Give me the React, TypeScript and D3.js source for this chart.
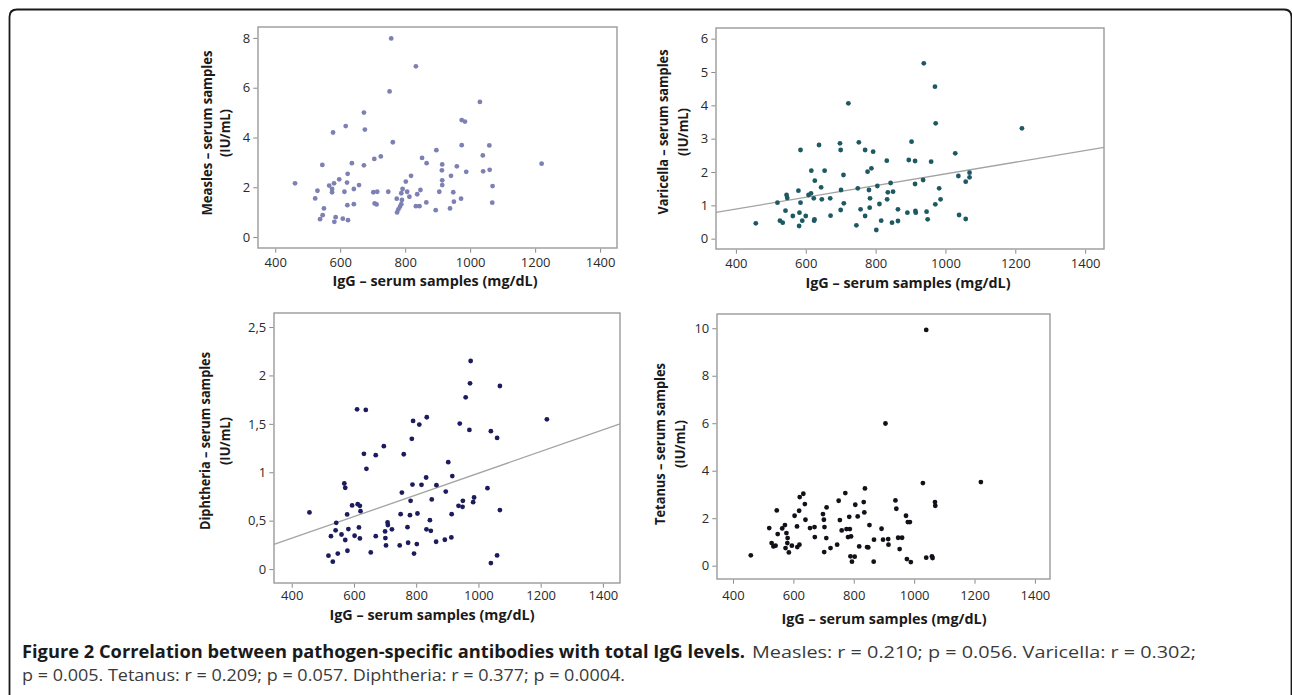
import React, { useRef, useEffect } from 'react'
import * as d3 from 'd3'

// IgG (mg/dL) vs pathogen-specific antibody (IU/mL)
const iggTicks = [400, 600, 800, 1000, 1200, 1400]
const measlesTicks = [0, 2, 4, 6, 8]
const varicellaTicks = [0, 1, 2, 3, 4, 5, 6]
const diphtheriaTicks = [0, 0.5, 1, 1.5, 2, 2.5]
const tetanusTicks = [0, 2, 4, 6, 8, 10]

const measles: [number, number][] = [
  [461, 2.16], [523, 1.55], [530, 1.86], [545, 2.9], [538, 0.72], [550, 1.15], [546, 0.88],
  [566, 2.07], [575, 1.93], [575, 1.8], [578, 4.2], [581, 2.16], [582, 0.61], [586, 0.8],
  [597, 2.32], [608, 0.74], [613, 1.82], [617, 4.46], [621, 2.19], [623, 2.54], [622, 1.28],
  [624, 0.68], [636, 2.97], [642, 1.93], [642, 1.32], [658, 2.09], [673, 5.0], [673, 2.88],
  [676, 4.32], [702, 1.8], [705, 3.14], [706, 1.35], [714, 1.82], [712, 1.31], [725, 3.24],
  [748, 1.82], [752, 5.85], [757, 7.98], [762, 3.81], [774, 1.54], [775, 0.99], [779, 1.11],
  [784, 1.22], [788, 1.76], [790, 1.49], [788, 1.32], [792, 1.93], [802, 2.23], [806, 1.82],
  [813, 1.62], [818, 2.46], [833, 6.86], [837, 1.72], [833, 1.24], [844, 1.24], [847, 1.89],
  [852, 3.18], [866, 2.97], [865, 1.39], [894, 1.08], [896, 3.49], [905, 1.82], [914, 2.92],
  [913, 2.68], [914, 2.28], [914, 2.09], [938, 1.15], [941, 2.46], [948, 1.8], [950, 1.42],
  [959, 2.84], [972, 1.54], [974, 3.69], [974, 4.7], [984, 4.64], [988, 2.62], [1030, 5.43],
  [1039, 3.28], [1040, 2.64], [1059, 3.68], [1060, 2.7], [1069, 2.05], [1068, 1.38], [1220, 2.95],
]

const varicella: [number, number][] = [
  [457, 0.46], [519, 1.08], [526, 0.54], [534, 0.48], [542, 0.84], [545, 1.31], [547, 1.22],
  [563, 0.68], [579, 1.44], [581, 0.38], [582, 0.78], [585, 1.08], [585, 2.66], [590, 0.54],
  [600, 0.68], [608, 1.31], [615, 1.36], [616, 2.04], [623, 1.21], [624, 0.54], [625, 0.58],
  [626, 1.74], [638, 2.81], [644, 1.54], [646, 1.18], [654, 2.04], [670, 1.21], [671, 0.69],
  [698, 2.86], [700, 2.66], [701, 1.46], [700, 0.86], [708, 1.91], [709, 1.06], [722, 4.06],
  [745, 0.4], [749, 1.51], [752, 2.89], [757, 0.88], [770, 0.68], [770, 2.66], [777, 2.01],
  [781, 1.46], [784, 1.21], [783, 0.93], [788, 2.11], [793, 2.61], [802, 0.26], [805, 1.58],
  [811, 1.04], [816, 0.54], [832, 2.34], [833, 1.18], [835, 1.39], [843, 1.67], [847, 0.48],
  [850, 1.41], [864, 0.88], [864, 0.53], [891, 0.78], [895, 2.36], [903, 2.91], [913, 2.33],
  [913, 1.64], [914, 0.83], [915, 0.78], [936, 1.76], [938, 5.26], [946, 0.81], [949, 0.58],
  [959, 2.31], [970, 4.56], [971, 1.03], [972, 3.46], [982, 1.51], [986, 1.18], [1028, 2.56],
  [1037, 1.88], [1039, 0.71], [1058, 1.71], [1058, 0.59], [1069, 1.98], [1069, 1.84], [1219, 3.31],
]

const diphtheria: [number, number][] = [
  [457, 0.585], [518, 0.138], [526, 0.34], [532, 0.076], [541, 0.4], [543, 0.478], [548, 0.16],
  [560, 0.357], [569, 0.884], [572, 0.839], [572, 0.3], [578, 0.564], [579, 0.189], [582, 0.413],
  [594, 0.657], [602, 0.344], [610, 1.65], [612, 0.67], [616, 0.43], [619, 0.316], [619, 0.653],
  [621, 0.598], [632, 1.19], [638, 1.644], [640, 1.035], [654, 0.172], [670, 0.34], [670, 1.176],
  [696, 1.269], [700, 0.389], [701, 0.32], [703, 0.244], [708, 0.481], [709, 0.454], [722, 0.41],
  [747, 0.244], [750, 0.567], [754, 0.79], [760, 1.186], [772, 0.433], [774, 0.272], [780, 0.557],
  [782, 0.705], [786, 1.345], [788, 0.873], [790, 1.53], [793, 0.16], [802, 0.258], [804, 0.574],
  [810, 1.492], [817, 0.87], [832, 0.946], [833, 0.41], [834, 1.568], [844, 0.505], [847, 0.395],
  [850, 0.719], [864, 0.282], [865, 0.867], [892, 0.303], [895, 0.8], [903, 1.104], [913, 0.327],
  [916, 0.96], [914, 0.567], [936, 0.653], [940, 1.503], [949, 0.643], [950, 0.705], [959, 1.774],
  [971, 1.437], [973, 1.919], [975, 2.149], [983, 0.691], [986, 0.739], [1029, 0.836], [1040, 1.424],
  [1040, 0.062], [1060, 1.355], [1060, 0.141], [1069, 1.891], [1069, 0.609], [1220, 1.547],
]

const tetanus: [number, number][] = [
  [459, 0.435], [520, 1.585], [528, 0.954], [534, 0.813], [541, 0.842], [545, 2.33], [548, 1.33],
  [563, 1.571], [572, 1.71], [574, 0.743], [577, 1.374], [580, 0.954], [581, 1.164], [585, 0.561],
  [595, 0.842], [604, 2.104], [612, 1.655], [613, 0.785], [619, 2.314], [621, 2.889], [620, 0.884],
  [633, 3.03], [638, 2.595], [640, 1.935], [655, 1.585], [670, 1.627], [671, 1.206], [698, 2.174],
  [701, 1.935], [702, 0.575], [703, 1.627], [709, 1.164], [710, 2.454], [723, 0.743], [745, 0.884],
  [750, 2.735], [754, 1.921], [760, 1.487], [772, 3.057], [776, 1.543], [781, 1.206], [785, 2.06],
  [787, 1.543], [791, 1.234], [789, 0.393], [794, 0.168], [803, 0.379], [805, 2.567], [813, 2.076],
  [818, 0.813], [833, 2.679], [835, 2.244], [837, 3.254], [844, 0.785], [848, 0.771], [852, 1.711],
  [866, 0.168], [867, 1.094], [892, 1.557], [897, 1.094], [905, 5.989], [914, 1.122], [915, 0.884],
  [938, 2.749], [941, 2.398], [947, 1.178], [952, 0.701], [960, 1.178], [973, 2.104], [976, 0.281],
  [979, 1.837], [986, 1.837], [989, 0.154], [1029, 3.478], [1040, 9.93], [1040, 0.337], [1059, 0.393],
  [1061, 0.323], [1069, 2.679], [1070, 2.524], [1221, 3.52],
]

// fitted lines: [intercept, slope]
const varicellaFit = [0.188, 0.001755]
const diphtheriaFit = [-0.13, 0.00112]

const captionBold = 'Figure 2 Correlation between pathogen-specific antibodies with total IgG levels.'
const captionRest1 = 'Measles: r = 0.210; p = 0.056. Varicella: r = 0.302;'
const captionRest2 = 'p = 0.005. Tetanus: r = 0.209; p = 0.057. Diphtheria: r = 0.377; p = 0.0004.'

const panels = [
  {
    name: 'Measles', data: measles, yTicks: measlesTicks, fit: null as number[] | null, color: '#7d80b3',
    left: 258, top: 27, right: 617, bottom: 248, xDom: [347, 1452], yDom: [-0.44, 8.44],
    yLab: [207, 225, 133], yLabLen: 165, xPad: 5, titleX: 435, titleY: 286,
  },
  {
    name: 'Varicella', data: varicella, yTicks: varicellaTicks, fit: varicellaFit, color: '#1d5963',
    left: 716, top: 28, right: 1104, bottom: 249, xDom: [343, 1454], yDom: [-0.31, 6.32],
    yLab: [663, 683, 132], yLabLen: 165, xPad: 5, titleX: 908, titleY: 288,
  },
  {
    name: 'Diphtheria', data: diphtheria, yTicks: diphtheriaTicks, fit: diphtheriaFit, color: '#1c1c5c',
    left: 274, top: 313, right: 620, bottom: 583, xDom: [343, 1455], yDom: [-0.144, 2.645],
    yLab: [205, 225, 441], yLabLen: 178, xPad: 3, titleX: 432, titleY: 620,
  },
  {
    name: 'Tetanus', data: tetanus, yTicks: tetanusTicks, fit: null, color: '#111119',
    left: 717, top: 314, right: 1050, bottom: 579, xDom: [347, 1450], yDom: [-0.56, 10.6],
    yLab: [660, 680, 444], yLabLen: 162, xPad: 7, titleX: 884, titleY: 624,
  },
]

const commaFmt = (d: any) => String(d).replace('.', ',')

const Figure: React.FC = () => {
  const ref = useRef(null)
  useEffect(() => {
    const svg = d3.select(ref.current)
    svg.selectAll('*').remove()

    // frame of the figure box
    svg
      .append('path')
      .attr('d', 'M9.5,700 L9.5,17 Q9.5,9.5 17,9.5 L1284,9.5 Q1291.5,9.5 1291.5,17 L1291.5,700')
      .attr('fill', 'none')
      .attr('stroke', '#1a1a1a')
      .attr('stroke-width', 1.8)

    panels.forEach(p => {
      const x = d3.scaleLinear().domain(p.xDom).range([p.left, p.right])
      const y = d3.scaleLinear().domain(p.yDom).range([p.bottom, p.top])
      const g = svg.append('g')

      g.append('rect')
        .attr('x', p.left)
        .attr('y', p.top)
        .attr('width', p.right - p.left)
        .attr('height', p.bottom - p.top)
        .attr('fill', 'none')
        .attr('stroke', '#9a9a9a')
        .attr('stroke-width', 1.4)

      const fmt = p.name === 'Diphtheria' ? commaFmt : d3.format('d')
      const yAxis = g
        .append('g')
        .attr('transform', `translate(${p.left - 0.7},0)`)
        .call(d3.axisLeft(y).tickValues(p.yTicks).tickSize(4).tickPadding(3).tickFormat(fmt as any))
      const xAxis = g
        .append('g')
        .attr('transform', `translate(0,${p.bottom + 0.7})`)
        .call(d3.axisBottom(x).tickValues(iggTicks).tickSize(4).tickPadding(p.xPad).tickFormat(d3.format('d') as any))
      ;[yAxis, xAxis].forEach(a => {
        a.select('.domain').remove()
        a.attr('font-family', '"Open Sans", sans-serif').attr('font-size', 13)
        a.selectAll('line').attr('stroke', '#8a8a8a')
        a.selectAll('text').attr('fill', '#2a2a2a')
      })

      if (p.fit) {
        const [b0, b1] = p.fit
        g.append('line')
          .attr('x1', x(p.xDom[0]))
          .attr('y1', y(b0 + b1 * p.xDom[0]))
          .attr('x2', x(p.xDom[1]))
          .attr('y2', y(b0 + b1 * p.xDom[1]))
          .attr('stroke', '#a3a3a3')
          .attr('stroke-width', 1.3)
      }

      g.append('g')
        .selectAll('circle')
        .data(p.data)
        .join('circle')
        .attr('cx', d => x(d[0]))
        .attr('cy', d => y(d[1]))
        .attr('r', 2.4)
        .attr('fill', p.color)

      g.append('text')
        .attr('x', p.titleX)
        .attr('y', p.titleY)
        .attr('text-anchor', 'middle')
        .attr('font-family', '"Open Sans", sans-serif')
        .attr('font-weight', 'bold')
        .attr('font-size', 13.5)
        .attr('fill', '#1a1a1a')
        .attr('textLength', 205)
        .attr('lengthAdjust', 'spacingAndGlyphs')
        .text('IgG – serum samples (mg/dL)')

      const [lx1, lx2, ly] = p.yLab
      const yl = (tx: number, s: string, len: number) =>
        g
          .append('text')
          .attr('transform', `translate(${tx},${ly}) rotate(-90)`)
          .attr('dy', '0.35em')
          .attr('text-anchor', 'middle')
          .attr('font-family', '"Open Sans", sans-serif')
          .attr('font-weight', 'bold')
          .attr('font-size', 13.5)
          .attr('fill', '#1a1a1a')
          .attr('textLength', len)
          .attr('lengthAdjust', 'spacingAndGlyphs')
          .text(s)
      yl(lx1, `${p.name} – serum samples`, p.yLabLen)
      yl(lx2, '(IU/mL)', 48)
    })

    const cap = (tx: number, ty: number, s: string, len: number, bold: boolean) =>
      svg
        .append('text')
        .attr('x', tx)
        .attr('y', ty)
        .attr('font-family', '"Open Sans", sans-serif')
        .attr('font-weight', bold ? 'bold' : 'normal')
        .attr('font-size', 17)
        .attr('fill', bold ? '#1a1a1a' : '#3a3a3a')
        .attr('textLength', len)
        .attr('lengthAdjust', 'spacingAndGlyphs')
        .text(s)
    cap(22, 658, captionBold, 723, true)
    cap(752, 658, captionRest1, 444, false)
    cap(22, 681, captionRest2, 603, false)
  }, [])

  return (
    <svg
      ref={ref}
      width={1292}
      height={695}
      style={{ position: 'absolute', left: 0, top: 0, background: '#fff' }}
    />
  )
}

const App: React.FC = () => (
  <div id="container">
    <Figure />
  </div>
)

export default App
